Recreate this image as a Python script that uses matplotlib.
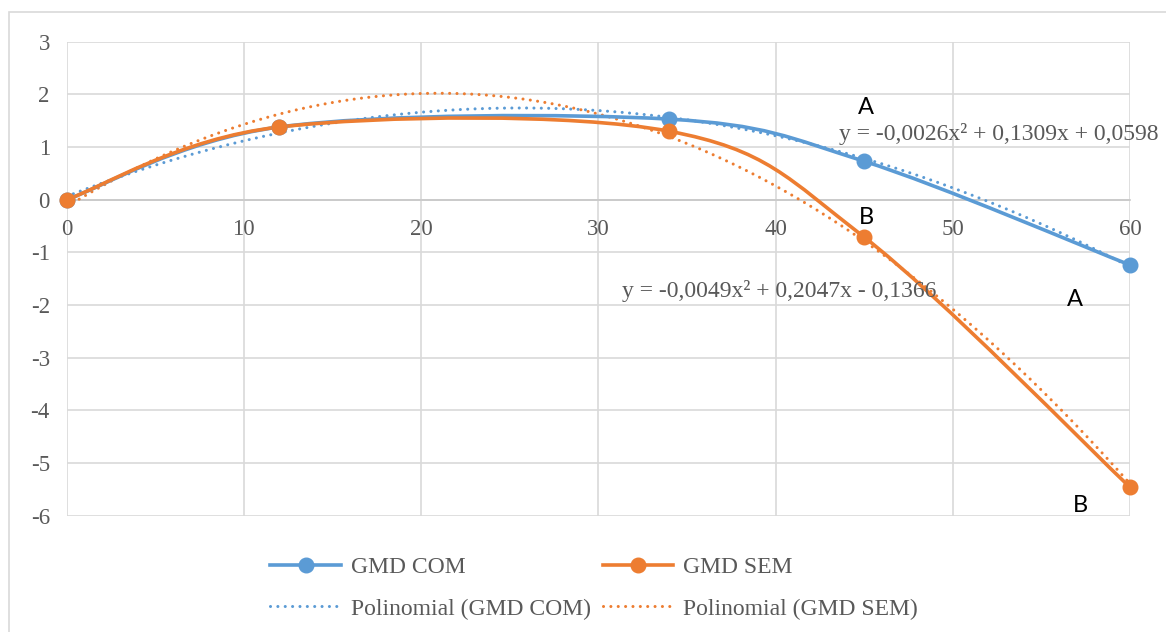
import numpy as np
import matplotlib
matplotlib.use("Agg")
import matplotlib.pyplot as plt
from matplotlib.path import Path
from matplotlib.patches import PathPatch, Rectangle
from matplotlib.lines import Line2D

plt.rcParams["axes.unicode_minus"] = False

# ---- data ----
x_vals = [0, 12, 34, 45, 60]
gmd_com = [0.0, 1.38, 1.53, 0.73, -1.24]
gmd_sem = [0.0, 1.38, 1.30, -0.71, -5.46]
series_names = ["GMD COM", "GMD SEM"]
trend_names = ["Polinomial (GMD COM)", "Polinomial (GMD SEM)"]
eq_com = "y = -0,0026x² + 0,1309x + 0,0598"
eq_sem = "y = -0,0049x² + 0,2047x - 0,1366"
x_ticks = [0, 10, 20, 30, 40, 50, 60]
y_ticks = [-6, -5, -4, -3, -2, -1, 0, 1, 2, 3]

BLUE = "#5B9BD5"
ORANGE = "#ED7D31"
GRID = "#D9D9D9"
TXT = "#595959"
SERIF = ["Liberation Serif", "DejaVu Serif"]
SANS = ["Lato", "DejaVu Sans"]
FS = 16.5
DOT = (0, (0.01, 2.4))

W, H = 1166, 632
fig = plt.figure(figsize=(W / 100, H / 100), dpi=100)
fig.patch.set_facecolor("white")

# outer chart border (extends off right/bottom like the reference)
fig.add_artist(Rectangle((8.5 / W, -0.1), 1.2, 1 - 12 / H + 0.1,
                         transform=fig.transFigure, fill=False,
                         edgecolor=GRID, lw=1.2))

ax = fig.add_axes([66.5 / W, 1 - 515.7 / H, (1130 - 66.5) / W, (515.7 - 41.7) / H])
ax.set_xlim(0, 60)
ax.set_ylim(-6, 3)
ax.set_xticks(x_ticks)
ax.set_yticks(y_ticks)
ax.grid(True, color=GRID, lw=1.2, zorder=0)
ax.set_axisbelow(True)
for s in ["top", "right", "left"]:
    ax.spines[s].set_visible(False)
ax.spines["bottom"].set_position(("data", 0))
ax.spines["bottom"].set_color("#C8C8C8")
ax.spines["bottom"].set_linewidth(1.2)
ax.tick_params(axis="both", length=0, labelsize=FS, labelcolor=TXT)
ax.tick_params(axis="y", pad=12)
ax.tick_params(axis="x", pad=14)
for lab in ax.get_xticklabels() + ax.get_yticklabels():
    lab.set_fontfamily(SERIF)


def smooth_path(xs, ys):
    pts = np.column_stack([xs, ys]).astype(float)
    n = len(pts)
    verts = [pts[0]]
    codes = [Path.MOVETO]
    for i in range(n - 1):
        p0 = pts[i - 1] if i > 0 else pts[i]
        p1 = pts[i]
        p2 = pts[i + 1]
        p3 = pts[i + 2] if i + 2 < n else pts[i + 1]
        c1 = p1 + (p2 - p0) / 6.0
        c2 = p2 - (p3 - p1) / 6.0
        verts += [c1, c2, p2]
        codes += [Path.CURVE4] * 3
    return Path(verts, codes)


for ys, col in [(gmd_com, BLUE), (gmd_sem, ORANGE)]:
    # polynomial trendline (order 2)
    coef = np.polyfit(x_vals, ys, 2)
    xx = np.linspace(min(x_vals), max(x_vals), 300)
    ax.plot(xx, np.polyval(coef, xx), color=col, lw=2.2,
            linestyle=DOT, dash_capstyle="round", zorder=3)
    # smoothed series line
    ax.add_patch(PathPatch(smooth_path(x_vals, ys), facecolor="none",
                           edgecolor=col, lw=2.6, zorder=4, capstyle="round"))
    ax.plot(x_vals, ys, linestyle="none", marker="o", markersize=10.5,
            color=col, zorder=5, clip_on=False)

# equations
fig.text(999 / W, 1 - 134 / H, eq_com, fontsize=FS + 0.5, color=TXT,
         family=SERIF, ha="center", va="center")
fig.text(779 / W, 1 - 291 / H, eq_sem, fontsize=FS + 0.5, color=TXT,
         family=SERIF, ha="center", va="center")

# A / B labels
for px, py, s in [(866, 107, "A"), (866, 217, "B"), (1075, 300, "A"), (1080, 506, "B")]:
    fig.text(px / W, 1 - py / H, s, fontsize=17, color="black",
             family=SANS, ha="center", va="center")

# legend
handles = [
    Line2D([], [], color=BLUE, lw=2.6, marker="o", markersize=10.5),
    Line2D([], [], color=BLUE, lw=2.2, linestyle=DOT, dash_capstyle="round"),
    Line2D([], [], color=ORANGE, lw=2.6, marker="o", markersize=10.5),
    Line2D([], [], color=ORANGE, lw=2.2, linestyle=DOT, dash_capstyle="round"),
]
labels = [series_names[0], trend_names[0], series_names[1], trend_names[1]]
leg = fig.legend(handles, labels, ncol=2, loc="center",
                 bbox_to_anchor=(594 / W, 1 - 588 / H), frameon=False,
                 prop={"family": SERIF, "size": FS + 0.5}, handlelength=3.0,
                 handletextpad=0.4, columnspacing=0.5, labelspacing=0.85,
                 borderpad=0)
for t in leg.get_texts():
    t.set_color(TXT)

fig.savefig("out.png", dpi=100, facecolor="white")
